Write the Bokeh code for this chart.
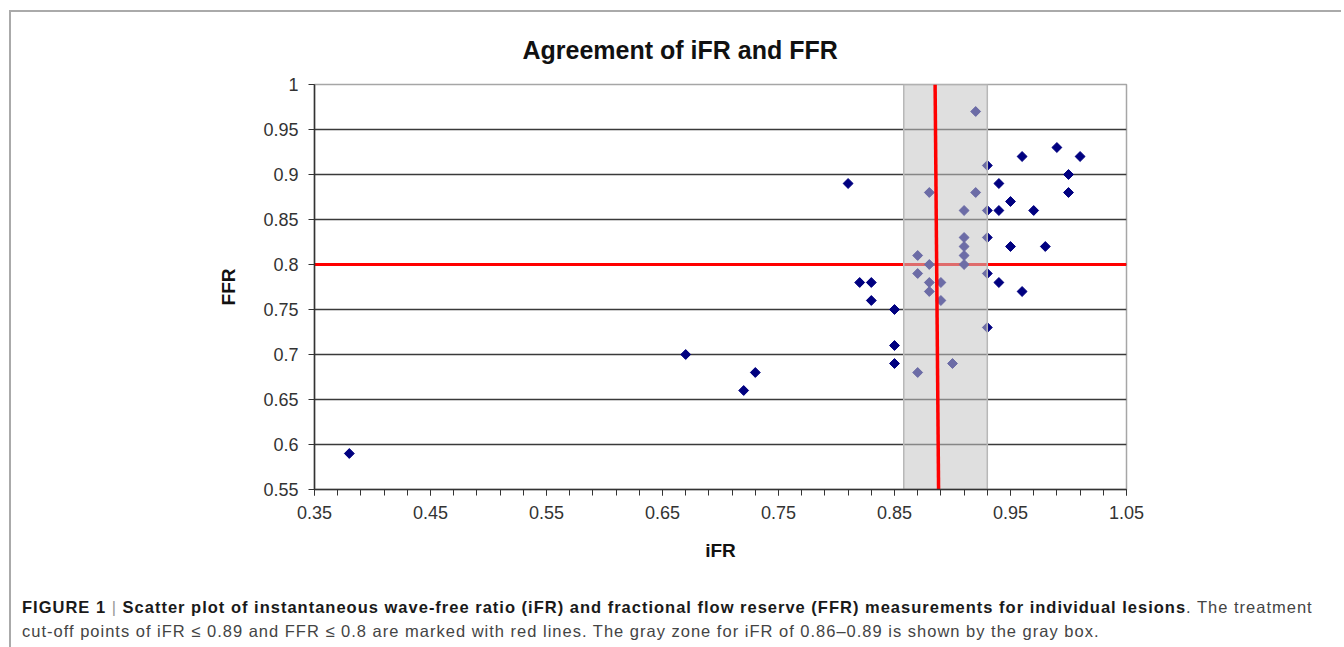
import numpy as np
from bokeh.plotting import figure
from bokeh.models import FixedTicker, Div, Range1d
from bokeh.layouts import column
from bokeh.embed import file_html
from bokeh.resources import INLINE

# ---- data ----
IFR = [0.38, 0.67, 0.72, 0.73, 0.81, 0.82, 0.83, 0.83, 0.85, 0.85, 0.85,
       0.87, 0.87, 0.87, 0.88, 0.88, 0.88, 0.88, 0.89, 0.89, 0.90,
       0.91, 0.91, 0.91, 0.91, 0.91, 0.92, 0.92, 0.93, 0.93, 0.93, 0.93, 0.93,
       0.94, 0.94, 0.94, 0.95, 0.95, 0.96, 0.96, 0.97, 0.98, 0.99, 1.00, 1.00, 1.01]
FFR = [0.59, 0.70, 0.66, 0.68, 0.89, 0.78, 0.78, 0.76, 0.75, 0.71, 0.69,
       0.81, 0.79, 0.68, 0.88, 0.80, 0.78, 0.77, 0.78, 0.76, 0.69,
       0.86, 0.83, 0.82, 0.81, 0.80, 0.97, 0.88, 0.91, 0.86, 0.83, 0.79, 0.73,
       0.89, 0.86, 0.78, 0.87, 0.82, 0.92, 0.77, 0.86, 0.82, 0.93, 0.90, 0.88, 0.92]

X_RANGE = [0.35, 1.05]
Y_RANGE = [0.55, 1.0]
X_TICKS = [0.35, 0.45, 0.55, 0.65, 0.75, 0.85, 0.95, 1.05]
X_TICK_LABELS = ["0.35", "0.45", "0.55", "0.65", "0.75", "0.85", "0.95", "1.05"]
X_MINOR_STEP = 0.02
Y_TICKS = [0.55, 0.6, 0.65, 0.7, 0.75, 0.8, 0.85, 0.9, 0.95, 1.0]
Y_TICK_LABELS = ["0.55", "0.6", "0.65", "0.7", "0.75", "0.8", "0.85", "0.9", "0.95", "1"]

FFR_CUTOFF = 0.8
IFR_CUTOFF_LINE = [0.885, 0.888]   # as drawn: x at top, x at bottom
GRAY_ZONE = [0.858, 0.930]

TITLE = "Agreement of iFR and FFR"
X_LABEL = "iFR"
Y_LABEL = "FFR"

FONT = "Liberation Sans"

n_minor = int(round((X_RANGE[1] - X_RANGE[0]) / X_MINOR_STEP))
X_MINOR = [round(X_RANGE[0] + i * X_MINOR_STEP, 4) for i in range(n_minor + 1)]

p = figure(width=1320, height=560,
           x_range=Range1d(*X_RANGE), y_range=Range1d(*Y_RANGE),
           output_backend="svg", toolbar_location=None,
           min_border_left=303, min_border_right=205,
           min_border_top=71, min_border_bottom=83)
p.background_fill_color = "white"
p.border_fill_color = "white"

p.title.text = TITLE
p.title.text_font = FONT
p.title.text_font_size = "25px"
p.title.text_font_style = "bold"
p.title.text_color = "#111111"
p.title.align = "left"
p.title.offset = 208
p.title.standoff = 42

p.outline_line_color = "#a6a6a6"
p.outline_line_width = 1.5

p.xgrid.visible = False
p.ygrid.ticker = FixedTicker(ticks=Y_TICKS[1:-1])
p.ygrid.grid_line_color = "#3a3a3a"
p.ygrid.grid_line_width = 1.3

for ax in (p.xaxis[0], p.yaxis[0]):
    ax.axis_line_color = "#333333"
    ax.axis_line_width = 1.5
    ax.major_tick_line_color = "#333333"
    ax.minor_tick_line_color = "#333333"
    ax.major_tick_in = 0
    ax.major_tick_out = 6
    ax.minor_tick_in = 0
    ax.major_label_text_font = FONT
    ax.major_label_text_font_size = "18px"
    ax.major_label_text_color = "#333333"
    ax.axis_label_text_font = FONT
    ax.axis_label_text_font_size = "19px"
    ax.axis_label_text_font_style = "bold"
    ax.axis_label_text_color = "#111111"

p.xaxis.ticker = FixedTicker(ticks=X_TICKS, minor_ticks=X_MINOR)
p.xaxis.minor_tick_out = 6
p.xaxis.major_label_overrides = dict(zip(X_TICKS, X_TICK_LABELS))
p.xaxis.major_label_standoff = 10
p.xaxis.axis_label = X_LABEL
p.xaxis.axis_label_standoff = 18

p.yaxis.ticker = FixedTicker(ticks=Y_TICKS, minor_ticks=[])
p.yaxis.minor_tick_out = 0
p.yaxis.major_label_overrides = dict(zip(Y_TICKS, Y_TICK_LABELS))
p.yaxis.major_label_standoff = 10
p.yaxis.axis_label = Y_LABEL
p.yaxis.axis_label_standoff = 21

# FFR cut-off (under the gray box)
p.segment(x0=[X_RANGE[0]], y0=[FFR_CUTOFF], x1=[X_RANGE[1]], y1=[FFR_CUTOFF],
          line_color="#ff0000", line_width=3)

# data points
p.scatter(IFR, FFR, marker="square", angle=np.pi / 4, size=7,
          fill_color="#000080", line_color="#000080")

# gray zone box (semi-transparent, above points)
p.quad(left=[GRAY_ZONE[0]], right=[GRAY_ZONE[1]], bottom=[Y_RANGE[0]], top=[Y_RANGE[1]],
       fill_color="#c4c4c4", fill_alpha=0.55, line_color="#b8b8b8", line_width=1.5)

# iFR cut-off (on top)
p.segment(x0=[IFR_CUTOFF_LINE[0]], y0=[Y_RANGE[1]], x1=[IFR_CUTOFF_LINE[1]], y1=[Y_RANGE[0]],
          line_color="#ff0000", line_width=3.5)

caption_html = (
    '<div style="font-family: \'Liberation Sans\', Arial, sans-serif; font-size: 16.5px; '
    'letter-spacing: 1.0px; color: #444; padding-left: 6px; padding-top: 19px; '
    'white-space: nowrap;">'
    '<div style="line-height: 23px;">'
    '<b style="color:#1a1a1a;">FIGURE 1 <span style="font-weight:normal;color:#999;">|</span> '
    'Scatter plot of instantaneous wave-free ratio (iFR) and fractional flow reserve (FFR) '
    'measurements for individual lesions</b>. The treatment</div>'
    '<div style="line-height: 17px; margin-top: 4px;">'
    'cut-off points of iFR &le; 0.89 and FFR &le; 0.8 are marked with red lines. '
    'The gray zone for iFR of 0.86&ndash;0.89 is shown by the gray box.</div>'
    '</div>'
)
div = Div(text=caption_html, width=1320, height=70)

layout = column(p, div, styles={"margin-top": "10px", "margin-left": "9px",
                                 "border-top": "2px solid #aaaaaa",
                                 "border-left": "2px solid #aaaaaa"})

open("out.html", "w").write(file_html(layout, INLINE))
